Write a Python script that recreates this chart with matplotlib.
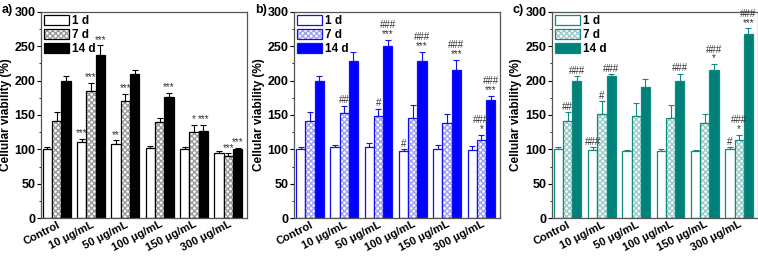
import numpy as np
import matplotlib.pyplot as plt
from matplotlib.ticker import MultipleLocator
from matplotlib.legend_handler import HandlerTuple

plt.rcParams['font.family'] = ['Liberation Sans', 'DejaVu Sans']

groups = ['Control', '10 μg/mL', '50 μg/mL', '100 μg/mL', '150 μg/mL', '300 μg/mL']
days = ['1 d', '7 d', '14 d']

# panel a)
a_mean = [[100, 110, 108, 102, 100, 95],
          [141, 185, 171, 140, 125, 91],
          [200, 237, 210, 176, 127, 100]]
a_err = [[3, 5, 5, 3, 3, 2],
         [13, 12, 10, 6, 10, 3],
         [6, 14, 6, 6, 9, 2]]
a_marks = [['', '***', '**', '', '', ''],
           ['', '***', '***', '', '*', '***'],
           ['', '***', '', '***', '***', '***']]

# panel b)
b_mean = [[100, 104, 104, 98, 101, 99],
          [141, 153, 148, 145, 138, 114],
          [200, 229, 250, 228, 215, 172]]
b_err = [[3, 2, 5, 2, 5, 6],
         [13, 10, 11, 20, 13, 7],
         [6, 13, 9, 14, 15, 6]]
b_marks = [['', '', '', '#', '', ''],
           ['', '##', '#', '', '', '###\n*'],
           ['', '', '###\n***', '###\n***', '###\n***', '###\n***']]

# panel c)
c_mean = [[100, 99, 97, 98, 97, 101],
          [141, 152, 148, 145, 138, 114],
          [200, 206, 190, 200, 216, 268]]
c_err = [[3, 4, 2, 3, 2, 2],
         [13, 18, 19, 20, 13, 7],
         [6, 3, 12, 10, 8, 8]]
c_marks = [['', '###', '', '', '', '#'],
           ['##', '#', '', '', '', '###\n*'],
           ['###', '###', '', '###', '###\n*', '###\n***']]

panels = [
    ('a)', a_mean, a_err, a_marks, 'black', '#9a9a9a', 'black'),
    ('b)', b_mean, b_err, b_marks, '#1010f0', '#a0a0f5', '#0000ff'),
    ('c)', c_mean, c_err, c_marks, '#0e8a80', '#98ccc8', '#00817a'),
]

fig = plt.figure(figsize=(7.58, 2.56), dpi=100)
lefts = [0.054, 0.388, 0.728]
x = np.arange(len(groups))
w = 0.27

for (lab, mean, err, marks, edge, hatchc, fill), left in zip(panels, lefts):
    ax = fig.add_axes([left, 0.148, 0.272, 0.806])
    handles = []
    for k in range(3):
        xs = x + (k - 1) * w
        m = np.array(mean[k])
        e = np.array(err[k])
        ax.errorbar(xs, m, yerr=[np.zeros_like(e), e], fmt='none',
                    ecolor=edge, elinewidth=0.8, capsize=2, capthick=0.8, zorder=1)
        if k == 0:
            b = ax.bar(xs, m, w, color='white', edgecolor=edge, lw=0.9, zorder=2)
            handles.append(b[0])
        elif k == 1:
            hb = ax.bar(xs, m, w, color='white', edgecolor=hatchc, hatch='xxxxxx',
                        lw=0, zorder=2)
            b = ax.bar(xs, m, w, color='none', edgecolor=edge, lw=0.9, zorder=3)
            handles.append((hb[0], b[0]))
        else:
            b = ax.bar(xs, m, w, color=fill, edgecolor=edge, lw=0.9, zorder=2)
            handles.append(b[0])
        for xi, mi, ei, s in zip(xs, m, e, marks[k]):
            if s:
                ax.text(xi, mi + ei + 1, s, ha='center', va='bottom',
                        fontsize=7, linespacing=0.85, color='#333333')

    ax.set_xlim(-0.46, 5.55)
    ax.set_ylim(0, 300)
    ax.yaxis.set_major_locator(MultipleLocator(50))
    ax.yaxis.set_minor_locator(MultipleLocator(25))
    ax.tick_params(axis='y', which='major', direction='out', length=3,
                   labelsize=9, pad=1, right=False)
    ax.tick_params(axis='y', which='minor', direction='out', length=1.5, right=False)
    ax.tick_params(axis='x', length=0, pad=1)
    ax.set_xticks(x)
    ax.set_xticklabels(groups, rotation=27, ha='right', rotation_mode='anchor',
                       fontsize=8, fontweight='bold')
    for t in ax.get_yticklabels():
        t.set_fontweight('bold')
    ax.set_ylabel('Cellular viability (%)', fontsize=8.5, fontweight='bold', labelpad=2)
    for sp in ax.spines.values():
        sp.set_color('#555555')
        sp.set_linewidth(0.9)
    ax.legend(handles, days, handler_map={tuple: HandlerTuple(ndivide=1)},
              loc='upper left', frameon=False, borderaxespad=0.05, borderpad=0.2,
              handlelength=2.1, handleheight=0.9, handletextpad=0.3,
              labelspacing=0.2, prop={'weight': 'bold', 'size': 8.5})
    fig.text(left - 0.052, 0.985, lab, fontsize=9, fontweight='bold',
             ha='left', va='top')

fig.savefig('out.png', dpi=100)
